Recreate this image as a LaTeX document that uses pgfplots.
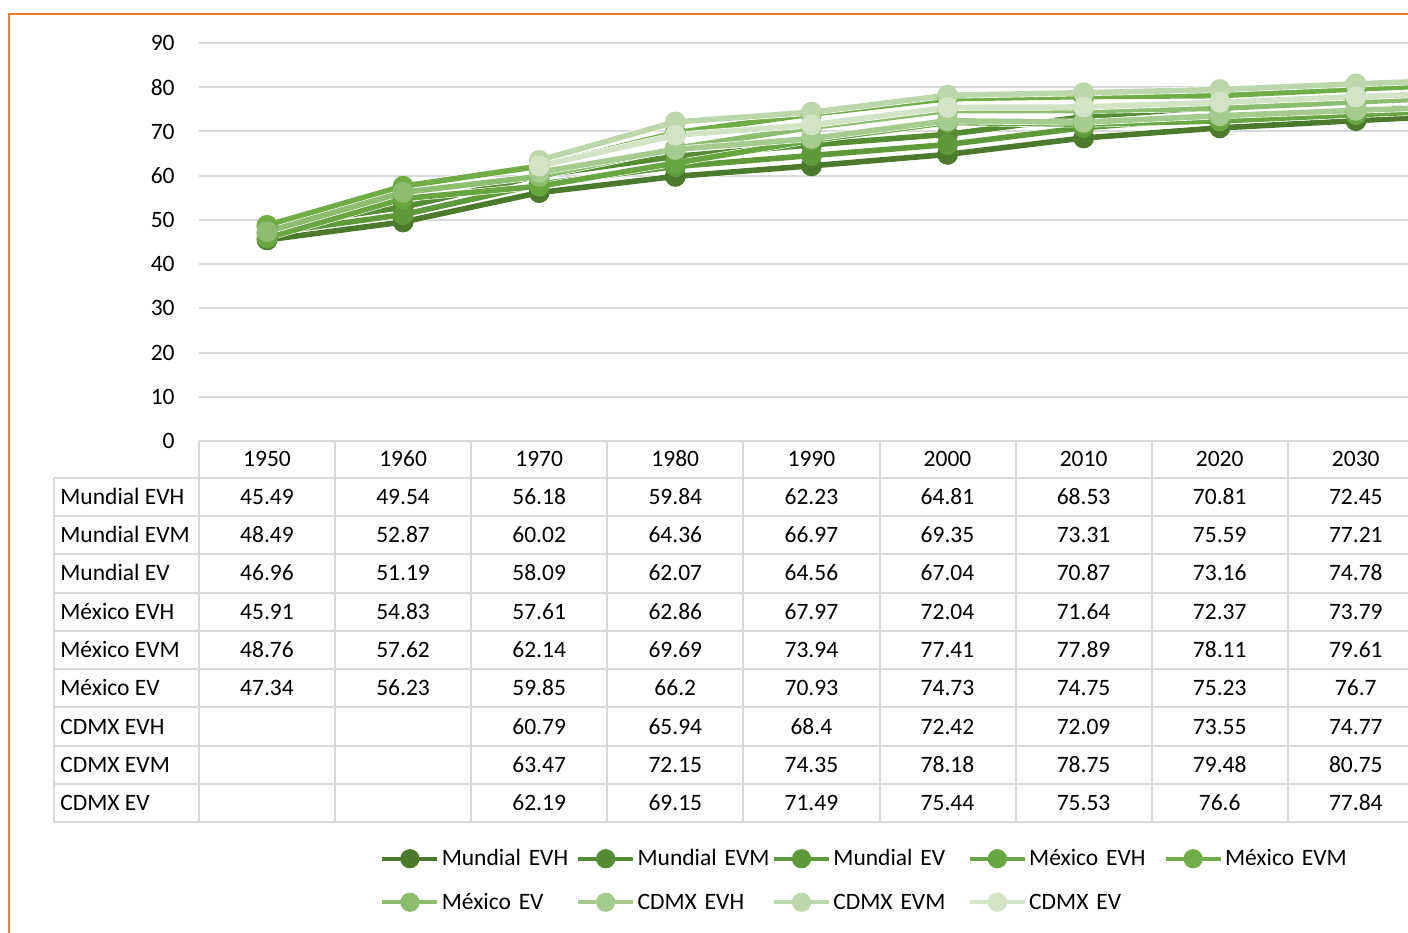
\documentclass[border=0pt]{standalone}
\usepackage{fontspec}
\setmainfont{Carlito}
\usepackage{pgfplots}
\usepackage{pgfplotstable}
\pgfplotsset{compat=1.18}

\definecolor{cMEVH}{HTML}{4B7A2C}
\definecolor{cMEVM}{HTML}{548B33}
\definecolor{cMEV}{HTML}{5E9A3A}
\definecolor{cXEVH}{HTML}{67A641}
\definecolor{cXEVM}{HTML}{70AD47}
\definecolor{cXEV}{HTML}{8DBE70}
\definecolor{cCEVH}{HTML}{A6CB8E}
\definecolor{cCEVM}{HTML}{BCD8AB}
\definecolor{cCEV}{HTML}{D1E4C5}
\definecolor{gridc}{HTML}{D9D9D9}
\definecolor{frameo}{HTML}{ED7D31}

% Esperanza de vida (años): hombres (EVH), mujeres (EVM) y total (EV)
\pgfplotstableread{
idx year MEVH  MEVM  MEV   XEVH  XEVM  XEV   CEVH  CEVM  CEV
0   1950 45.49 48.49 46.96 45.91 48.76 47.34 nan   nan   nan
1   1960 49.54 52.87 51.19 54.83 57.62 56.23 nan   nan   nan
2   1970 56.18 60.02 58.09 57.61 62.14 59.85 60.79 63.47 62.19
3   1980 59.84 64.36 62.07 62.86 69.69 66.2  65.94 72.15 69.15
4   1990 62.23 66.97 64.56 67.97 73.94 70.93 68.4  74.35 71.49
5   2000 64.81 69.35 67.04 72.04 77.41 74.73 72.42 78.18 75.44
6   2010 68.53 73.31 70.87 71.64 77.89 74.75 72.09 78.75 75.53
7   2020 70.81 75.59 73.16 72.37 78.11 75.23 73.55 79.48 76.6
8   2030 72.45 77.21 74.78 73.79 79.61 76.7  74.77 80.75 77.84
9   2040 74.0  78.7  76.3  75.1  80.9  78.0  75.9  81.9  79.0
}\lifedata

\def\nanstr{nan}
\newcommand\cellfont{\fontsize{11.75pt}{14pt}\selectfont}

\pgfplotsset{
  ser/.style={color=#1, line width=2.8pt, mark=*, mark size=3.8pt,
    mark options={solid, fill=#1, draw=none},
    preaction={draw=white, line width=3.4pt}},
}

\begin{document}
\begin{tikzpicture}[font=\cellfont]
\useasboundingbox (0pt,0pt) rectangle (704pt,466pt);

\begin{axis}[
  at={(99.5pt,245.5pt)}, anchor=south west,
  scale only axis, width=604.5pt, height=199pt,
  xmin=-0.5, xmax=8.383, ymin=0, ymax=90,
  ytick={0,10,...,90}, xtick=\empty,
  ymajorgrids, grid style={gridc, line width=1pt},
  axis line style={draw=none}, tick style={draw=none},
  /pgf/number format/assume math mode=true,
  tick label style={font=\cellfont},
  yticklabel style={anchor=east, inner xsep=0pt, xshift=-12pt},
  legend columns=5,
  legend cell align=left,
  legend style={at={(0.1489,-1.1068)}, anchor=west, draw=none, fill=none,
    inner sep=0pt, outer sep=0pt, font=\cellfont, row sep=10.75pt,
    column sep=0pt,
    nodes={inner xsep=0.5pt, inner ysep=0pt, text width=66pt, align=left,
      text height=8.5pt, text depth=2.5pt}},
  legend image code/.code={
    \draw[line width=2pt, mark repeat=2, mark phase=2]
      plot coordinates {(0pt,0.5pt) (13.75pt,0.5pt) (27.5pt,0.5pt)};},
]
\addplot[ser=cMEVH] table[x=idx, y=MEVH] {\lifedata};
\addlegendentry{Mundial EVH}
\addplot[ser=cMEVM] table[x=idx, y=MEVM] {\lifedata};
\addlegendentry{Mundial EVM}
\addplot[ser=cMEV] table[x=idx, y=MEV] {\lifedata};
\addlegendentry{Mundial EV}
\addplot[ser=cXEVH] table[x=idx, y=XEVH] {\lifedata};
\addlegendentry{México EVH}
\addplot[ser=cXEVM] table[x=idx, y=XEVM] {\lifedata};
\addlegendentry{México EVM}
\addplot[ser=cXEV] table[x=idx, y=XEV] {\lifedata};
\addlegendentry{México EV}
\addplot[ser=cCEVH] table[x=idx, y=CEVH] {\lifedata};
\addlegendentry{CDMX EVH}
\addplot[ser=cCEVM] table[x=idx, y=CEVM] {\lifedata};
\addlegendentry{CDMX EVM}
\addplot[ser=cCEV] table[x=idx, y=CEV] {\lifedata};
\addlegendentry{CDMX EV}
\end{axis}

% data table below the plot, in pixel-like units (y downwards)
\begin{scope}[x=0.5pt, y=-0.5pt, shift={(0pt,466pt)}]
  \draw[frameo, line width=1.25pt] (9,940) -- (9,14) -- (1420,14);
  \draw[gridc, line width=1pt] (199,441) -- (1420,441);
  \foreach \k in {0,...,9}
    \draw[gridc, line width=1pt] (54,478+38.25*\k) -- (1420,478+38.25*\k);
  \draw[gridc, line width=1pt] (54,478) -- (54,822.25);
  \foreach \i in {0,...,8}
    \draw[gridc, line width=1pt] (199+136.1*\i,441) -- (199+136.1*\i,822.25);
  \foreach \r in {0,...,8} {
    \pgfplotstablegetelem{\r}{year}\of\lifedata
    \node[anchor=base, inner sep=0pt] at (267+136.1*\r, 467) {\pgfplotsretval};
  }
  \foreach \col/\lab [count=\k from 0] in {MEVH/Mundial EVH, MEVM/Mundial EVM,
      MEV/Mundial EV, XEVH/México EVH, XEVM/México EVM, XEV/México EV,
      CEVH/CDMX EVH, CEVM/CDMX EVM, CEV/CDMX EV} {
    \node[anchor=base west, inner sep=0pt] at (60, 504.5+38.25*\k) {\lab};
    \foreach \r in {0,...,8} {
      \pgfplotstablegetelem{\r}{\col}\of\lifedata
      \ifx\pgfplotsretval\nanstr\else
        \node[anchor=base, inner sep=0pt] at (267+136.1*\r, 504.5+38.25*\k) {\pgfplotsretval};
      \fi
    }
  }
\end{scope}
\end{tikzpicture}
\end{document}
